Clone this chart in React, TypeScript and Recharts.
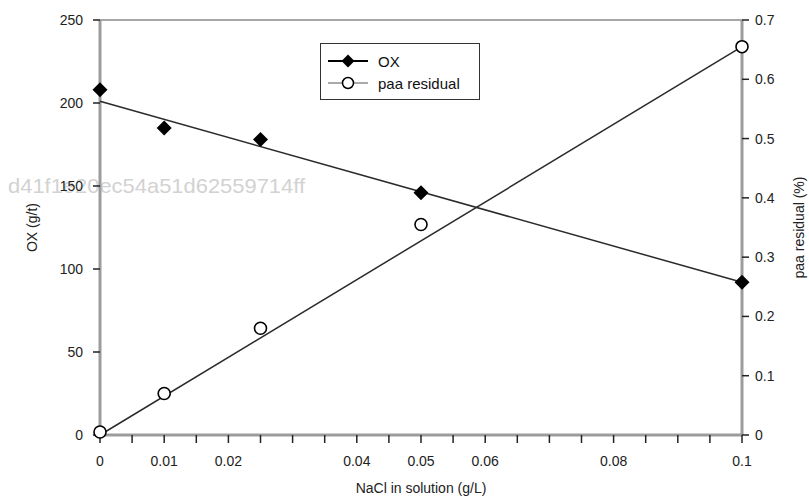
import { ScatterChart, Scatter, XAxis, YAxis, Legend, ReferenceLine } from "recharts";

// NaCl concentrations (g/L) where OX and paa residual were measured
const nacl = [0, 0.01, 0.025, 0.05, 0.1];
const oxValues = [208, 185, 178, 146, 92];
const paaValues = [0.005, 0.07, 0.18, 0.355, 0.655];

// linear trend lines
const trendX = [0, 0.1];
const oxTrend = [201, 92];
const paaTrend = [0, 0.655];

const xTicks = [0, 0.005, 0.01, 0.015, 0.02, 0.025, 0.03, 0.035, 0.04, 0.045, 0.05, 0.055, 0.06, 0.065, 0.07, 0.075, 0.08, 0.085, 0.09, 0.095, 0.1];
const xTickLabels = [0, 0.01, 0.02, 0.04, 0.05, 0.06, 0.08, 0.1];
const leftTicks = [0, 50, 100, 150, 200, 250];
const rightTicks = [0, 0.1, 0.2, 0.3, 0.4, 0.5, 0.6, 0.7];

const watermark = "d41f1e20ec54a51d62559714ff";

const oxData = nacl.map((x, i) => ({ x, y: oxValues[i] }));
const paaData = nacl.map((x, i) => ({ x, y: paaValues[i] }));
const oxTrendData = trendX.map((x, i) => ({ x, y: oxTrend[i] }));
const paaTrendData = trendX.map((x, i) => ({ x, y: paaTrend[i] }));

const font = "'Liberation Sans', Arial, sans-serif";
const axisGray = "#9c9c9c";

const Diamond = (props: any) => {
  const { cx, cy } = props;
  const r = 7.5;
  return <path d={`M${cx},${cy - r}L${cx + r},${cy}L${cx},${cy + r}L${cx - r},${cy}Z`} fill="#000" />;
};

const OpenCircle = (props: any) => {
  const { cx, cy } = props;
  return <circle cx={cx} cy={cy} r={6} fill="#fff" stroke="#000" strokeWidth={1.6} />;
};

const NoDot = () => <g />;

const fmtX = (v: number) => (xTickLabels.some((l) => Math.abs(l - v) < 1e-9) ? String(v) : "");

const renderLegend = () => (
  <div
    style={{
      width: 160,
      height: 57,
      border: "1.5px solid #333",
      background: "#fff",
      boxSizing: "border-box",
    }}
  >
    <svg width={157} height={54} style={{ display: "block" }}>
      <line x1={7} x2={47} y1={17} y2={17} stroke="#000" strokeWidth={2} />
      <path d="M27,10.5L33.5,17L27,23.5L20.5,17Z" fill="#000" />
      <text x={57} y={22.5} fontSize={15} fill="#111" fontFamily={font}>OX</text>
      <line x1={7} x2={47} y1={39} y2={39} stroke="#555" strokeWidth={1} />
      <circle cx={27} cy={39} r={5.5} fill="#fff" stroke="#000" strokeWidth={1.5} />
      <text x={57} y={44.5} fontSize={15} fill="#111" fontFamily={font}>paa residual</text>
    </svg>
  </div>
);

export default function App() {
  return (
    <div style={{ position: "absolute", left: 0, top: 0, width: 809, height: 499, background: "#fff" }}>
      <svg width={809} height={499} style={{ position: "absolute", left: 0, top: 0 }}>
        <text x={8} y={193} fontSize={21} fill="#d2d2d2" fontFamily={font} textLength={297} lengthAdjust="spacingAndGlyphs">
          {watermark}
        </text>
      </svg>
      <div style={{ position: "absolute", left: 0, top: 0 }}>
        <ScatterChart width={809} height={499} margin={{ top: 20, right: 0, bottom: 0, left: 0 }} style={{ fontFamily: font }}>
          <XAxis
            type="number"
            dataKey="x"
            domain={[0, 0.1]}
            ticks={xTicks}
            interval={0}
            tickFormatter={fmtX}
            height={64}
            tickSize={8}
            tickMargin={13}
            axisLine={{ stroke: axisGray, strokeWidth: 3 }}
            tickLine={{ stroke: "#222", strokeWidth: 1.5 }}
            tick={{ fill: "#222", fontSize: 14 }}
            label={{
              content: (p: any) => {
                const vb = p.viewBox;
                return (
                  <text x={vb.x + vb.width / 2} y={vb.y + vb.height - 6} textAnchor="middle" fontSize={14} fill="#222" fontFamily={font}>
                    NaCl in solution (g/L)
                  </text>
                );
              },
            }}
          />
          <YAxis
            yAxisId="left"
            type="number"
            dataKey="y"
            domain={[0, 250]}
            ticks={leftTicks}
            interval={0}
            width={100}
            tickSize={7}
            tickMargin={10}
            axisLine={{ stroke: axisGray, strokeWidth: 3 }}
            tickLine={{ stroke: "#222", strokeWidth: 1.5 }}
            tick={{ fill: "#222", fontSize: 14 }}
            label={{
              content: (p: any) => {
                const vb = p.viewBox;
                const cy = vb.y + vb.height / 2;
                return (
                  <text x={37} y={cy} transform={`rotate(-90, 37, ${cy})`} textAnchor="middle" fontSize={14} fill="#222" fontFamily={font}>
                    OX (g/t)
                  </text>
                );
              },
            }}
          />
          <YAxis
            yAxisId="right"
            orientation="right"
            type="number"
            dataKey="y"
            domain={[0, 0.7]}
            ticks={rightTicks}
            interval={0}
            width={67}
            tickSize={7}
            tickMargin={6}
            axisLine={{ stroke: axisGray, strokeWidth: 3 }}
            tickLine={{ stroke: "#222", strokeWidth: 1.5 }}
            tick={{ fill: "#222", fontSize: 14 }}
            label={{
              content: (p: any) => {
                const vb = p.viewBox;
                const cy = vb.y + vb.height / 2;
                const x = vb.x + 62;
                return (
                  <text x={x} y={cy} transform={`rotate(-90, ${x}, ${cy})`} textAnchor="middle" fontSize={14} fill="#222" fontFamily={font}>
                    paa residual (%)
                  </text>
                );
              },
            }}
          />
          <ReferenceLine yAxisId="left" y={250} stroke="#8a8a8a" strokeWidth={1.5} />
          <Scatter
            yAxisId="left"
            data={oxTrendData}
            line={{ stroke: "#2a2a2a", strokeWidth: 1.5 }}
            shape={NoDot}
            isAnimationActive={false}
          />
          <Scatter
            yAxisId="right"
            data={paaTrendData}
            line={{ stroke: "#2a2a2a", strokeWidth: 1.5 }}
            shape={NoDot}
            isAnimationActive={false}
          />
          <Scatter yAxisId="left" name="OX" data={oxData} shape={Diamond} isAnimationActive={false} />
          <Scatter yAxisId="right" name="paa residual" data={paaData} shape={OpenCircle} isAnimationActive={false} />
          <Legend
            layout="vertical"
            align="center"
            verticalAlign="middle"
            wrapperStyle={{ left: 320, top: 43, width: 160, height: 57 }}
            content={renderLegend}
          />
        </ScatterChart>
      </div>
    </div>
  );
}
